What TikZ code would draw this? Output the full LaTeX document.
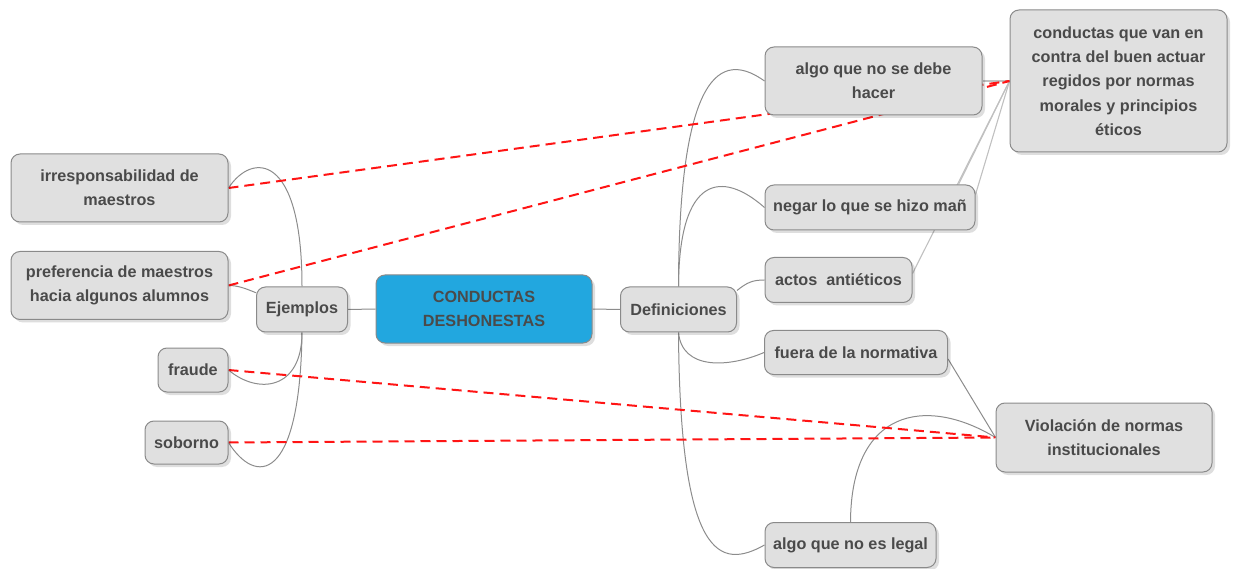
\documentclass[tikz,border=0pt]{standalone}
\usepackage{fontspec}
\setmainfont{Liberation Sans}
\usetikzlibrary{shadows,calc}
\definecolor{boxfill}{HTML}{E0E0E0}
\definecolor{boxline}{HTML}{8A8A8A}
\definecolor{txt}{HTML}{4A4A4A}
\definecolor{mainblue}{HTML}{22A7DF}
\definecolor{linkgray}{HTML}{8C8C8C}
\definecolor{lightlink}{HTML}{C0C0C0}
\definecolor{dashred}{HTML}{FF1414}
\pgfdeclarelayer{bg}
\pgfsetlayers{bg,main}
\begin{document}
\begin{tikzpicture}[x=1pt,y=-1pt,
  box/.style={draw=boxline, line width=1pt, fill=boxfill, rounded corners=9pt,
    align=center, inner sep=0pt, text=txt,
    font=\fontsize{16.2}{24.3}\selectfont\bfseries,
    drop shadow={shadow xshift=3pt, shadow yshift=-3pt, fill=black, opacity=0.13}},
  link/.style={draw=linkgray, line width=1pt},
  xlink/.style={draw=lightlink, line width=1.1pt},
  reddash/.style={draw=dashred, line width=2pt, dash pattern=on 10pt off 6pt}]
\useasboundingbox (0,0) rectangle (1237,569);

% left side
\node[box, minimum width=217pt, minimum height=68pt] (irr) at (119.5,188) {irresponsabilidad de\\maestros};
\node[box, minimum width=217pt, minimum height=68pt] (pref) at (119.5,285.5) {preferencia de maestros\\hacia algunos alumnos};
\node[box, minimum width=91pt, minimum height=45pt] (ejem) at (302,309.5) {Ejemplos};
\node[box, minimum width=70pt, minimum height=44pt] (fraude) at (193,370) {fraude};
\node[box, minimum width=83pt, minimum height=43pt] (soborno) at (186.5,442.5) {soborno};

% centre
\node[box, fill=mainblue, minimum width=216pt, minimum height=68pt] (main) at (484,309) {CONDUCTAS\\DESHONESTAS};
\node[box, minimum width=116pt, minimum height=45pt] (defin) at (678.5,309.5) {Definiciones};

% right side
\node[box, minimum width=217pt, minimum height=68pt] (algo) at (873.5,81) {algo que no se debe\\hacer};
\node[box, minimum width=217pt, minimum height=142pt] (cond) at (1118.5,81) {conductas que van en\\contra del buen actuar\\regidos por normas\\morales y principios\\éticos};
\node[box, minimum width=210pt, minimum height=45pt] (negar) at (870,207.5) {negar lo que se hizo mañ};
\node[box, minimum width=147pt, minimum height=45pt] (actos) at (838.5,280) {actos\ \ antiéticos};
\node[box, minimum width=183pt, minimum height=44pt] (fuera) at (856,352.5) {fuera de la normativa};
\node[box, minimum width=171pt, minimum height=45pt] (legal) at (850.5,545) {algo que no es legal};
\node[box, minimum width=216pt, minimum height=69pt] (viol) at (1104,437.5) {Violación de normas\\institucionales};

\begin{pgfonlayer}{bg}
% Ejemplos branch
\draw[link] (ejem.north) .. controls (302,152) and (252,152) .. (irr.east);
\draw[link] (ejem.160) .. controls +(-10,-4) and +(10,0) .. (pref.east);
\draw[link] (ejem.south) .. controls (302,390) and (258,395) .. (fraude.east);
\draw[link] (ejem.south) .. controls (300,485) and (255,485) .. (soborno.east);
\draw[link] (ejem.east) -- (main.west);
\draw[link] (main.east) -- (defin.west);
% Definiciones branch
\draw[link] (defin.north) .. controls (679,55) and (728,55) .. (algo.west);
\draw[link] (defin.north) .. controls (679,175) and (722,170) .. (negar.west);
\draw[link] (defin.18) .. controls +(10,-8) and +(-12,0) .. (actos.west);
\draw[link] (defin.south) .. controls (682,370) and (728,368) .. (fuera.west);
\draw[link] (defin.south) .. controls (680,560) and (720,570) .. (legal.west);
% links to cond
\draw[xlink] (cond.west) -- (algo.east);
\draw[xlink] (cond.west) -- ($(negar.north east)+(-17,0)$);
\draw[xlink] (cond.west) -- (negar.7);
\draw[xlink] (cond.west) -- (actos.5);
% links to viol
\draw[link] (fuera.-4) -- (viol.west);
\draw[link] (legal.north) .. controls (851,410) and (925,395) .. (viol.west);
% red dashed relations
\draw[reddash] (irr.east) -- (cond.west);
\draw[reddash] (pref.east) -- (cond.west);
\draw[reddash] (fraude.east) -- (viol.west);
\draw[reddash] (soborno.east) -- (viol.west);
\end{pgfonlayer}
\end{tikzpicture}
\end{document}
